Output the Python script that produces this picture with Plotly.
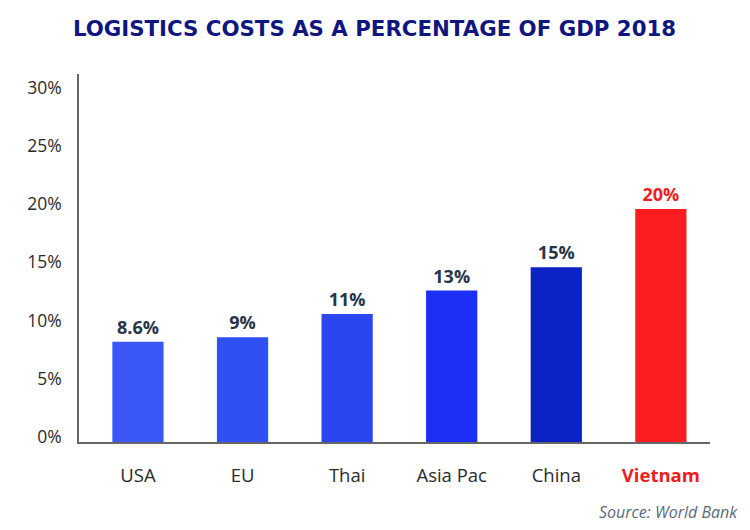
import plotly.graph_objects as go

categories = ["USA", "EU", "Thai", "Asia Pac", "China", "Vietnam"]
values = [8.6, 9, 11, 13, 15, 20]
value_labels = ["8.6%", "9%", "11%", "13%", "15%", "20%"]
bar_colors = ["#3a58f6", "#3150f4", "#2a46f0", "#1b2ff5", "#0b23c4", "#fb1d1f"]
label_colors = ["#27344a", "#27344a", "#27344a", "#27344a", "#27344a", "#f01c1e"]
y_ticks = [0, 5, 10, 15, 20, 25, 30]
y_ticktext = ["0%", "5%", "10%", "15%", "20%", "25%", "30%"]
x_ticktext = ["USA", "EU", "Thai", "Asia Pac", "China",
              "<b><span style='color:#f01c1e'>Vietnam</span></b>"]

fig = go.Figure()
fig.add_trace(go.Bar(
    x=categories, y=values, width=0.49,
    marker=dict(color=bar_colors, line=dict(width=0)),
    text=value_labels, textposition="outside", cliponaxis=False,
    textfont=dict(family="Open Sans", size=18, color=label_colors, weight="bold"),
))

fig.update_layout(
    width=750, height=530,
    margin=dict(l=71, r=48, t=66, b=96, autoexpand=False),
    paper_bgcolor="white", plot_bgcolor="white",
    showlegend=False,
    title=dict(text="<b>LOGISTICS COSTS AS A PERCENTAGE OF GDP 2018</b>",
               x=0.4887, xanchor="center", y=0.962, yanchor="middle",
               font=dict(family="DejaVu Sans", size=21.3, color="#10167f")),
    font=dict(family="Open Sans", color="#2b2b2b"),
)
fig.update_xaxes(
    range=[-0.564, 5.47], tickvals=categories, ticktext=x_ticktext,
    showline=True, linecolor="#666666", linewidth=1.5,
    ticks="outside", ticklen=16, tickcolor="rgba(0,0,0,0)",
    tickfont=dict(family="Open Sans", size=18.5, color="#2b2b2b"),
    showgrid=False, zeroline=False, automargin=False,
)
fig.update_yaxes(
    range=[0, 31.6], tickvals=y_ticks, ticktext=y_ticktext,
    showline=True, linecolor="#666666", linewidth=1.5,
    ticks="outside", ticklen=12, tickcolor="rgba(0,0,0,0)",
    ticklabelshift=-5,
    tickfont=dict(family="Open Sans", size=17.5, color="#2b2b2b"),
    showgrid=False, zeroline=False, automargin=False,
)
fig.add_annotation(
    text="<i>Source: World Bank</i>", xref="paper", yref="paper",
    x=1.0475, y=-0.19, xanchor="right", yanchor="middle", showarrow=False,
    font=dict(family="Open Sans", size=16, color="#5d6a78"),
)
fig.write_html("out.html")
